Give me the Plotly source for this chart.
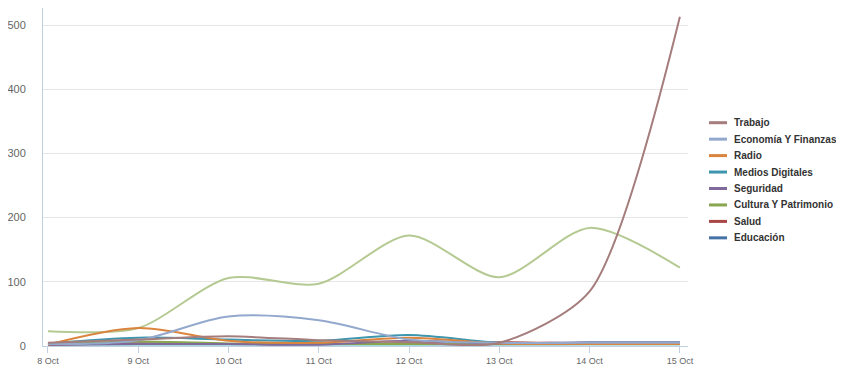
import plotly.graph_objects as go

dates = ["8 Oct", "9 Oct", "10 Oct", "11 Oct", "12 Oct", "13 Oct", "14 Oct", "15 Oct"]

trabajo = [5, 10, 15, 9, 6, 5, 85, 513]
economia = [3, 9, 46, 40, 10, 5, 5, 5]
radio = [2, 28, 8, 5, 13, 4, 3, 3]
medios = [4, 13, 10, 8, 17, 5, 5, 5]
seguridad = [2, 3, 3, 2, 8, 4, 6, 6]
cultura = [3, 7, 4, 3, 3, 3, 3, 3]
salud = [2, 4, 3, 3, 4, 6, 4, 4]
educacion = [3, 4, 3, 3, 3, 3, 3, 3]
otros = [23, 28, 106, 97, 172, 107, 184, 122]
otros2 = [1, 1, 1, 1, 1, 1, 2, 2]

series = [
    ("Trabajo", trabajo, "#A47D7C", True, 0.75),
    ("Economía Y Finanzas", economia, "#92A8CD", True, 0.9),
    ("Radio", radio, "#DB843D", True, 0.9),
    ("Medios Digitales", medios, "#3D96AE", True, 0.9),
    ("Seguridad", seguridad, "#80699B", True, 0.9),
    ("Cultura Y Patrimonio", cultura, "#89A54E", True, 0.9),
    ("Salud", salud, "#AA4643", True, 0.9),
    ("Educación", educacion, "#4572A7", True, 0.9),
    ("Otros", otros, "#B5CA92", False, 0.8),
    ("Otros 2", otros2, "#A6D8DC", False, 0.9),
]

# Figure geometry (page has an 8px body margin)
W, H = 836, 373
ML, MR, MT, MB = 35, 156, 0, 35
PW, PH = W - ML - MR, H - MT - MB
OFF = 8

def px(xpage):
    return (xpage - OFF - ML) / PW

def py(ypage):
    return 1 - (ypage - OFF - MT) / PH

fig = go.Figure()
for name, vals, color, show, sm in reversed(series):
    fig.add_trace(go.Scatter(
        x=dates, y=vals, name=name, mode="lines",
        line=dict(color=color, width=2, shape="spline", smoothing=sm),
        showlegend=False,
    ))

# Manual legend (to match the compact item spacing)
shapes = []
annotations = []
legend_items = [s for s in series if s[3]]
for i, (name, vals, color, show, sm) in enumerate(legend_items):
    yc = 122.7 + 16.45 * i
    shapes.append(dict(
        type="line", xref="paper", yref="paper",
        x0=px(709), x1=px(727), y0=py(yc), y1=py(yc),
        line=dict(color=color, width=3),
    ))
    annotations.append(dict(
        text=name, xref="paper", yref="paper",
        x=px(732), y=py(yc), xanchor="left", yanchor="middle",
        showarrow=False,
        font=dict(size=10, color="#333333", family="Liberation Sans, Arial, sans-serif", weight="bold"),
    ))

fig.update_layout(
    width=W, height=H,
    margin=dict(l=ML, r=MR, t=MT, b=MB),
    plot_bgcolor="white", paper_bgcolor="white",
    font=dict(family="Liberation Sans, Arial, sans-serif", color="#666666"),
    showlegend=False,
    hovermode=False,
    shapes=shapes,
    annotations=annotations,
)

fig.update_xaxes(
    type="category", range=[-0.055, 7.09],
    showgrid=False, zeroline=False,
    showline=True, linecolor="#C0D0E0", linewidth=1,
    ticks="outside", ticklen=6, tickcolor="#C0D0E0",
    tickfont=dict(size=9, color="#666666"),
)
fig.update_yaxes(
    range=[0, 526.5], tickvals=[0, 100, 200, 300, 400, 500],
    showgrid=True, gridcolor="#E6E6E6", gridwidth=1, zeroline=False,
    showline=True, linecolor="#C0D0E0", linewidth=1,
    ticks="outside", ticklen=14, tickcolor="rgba(0,0,0,0)",
    tickfont=dict(size=11, color="#666666"),
)

fig.write_html("out.html")
